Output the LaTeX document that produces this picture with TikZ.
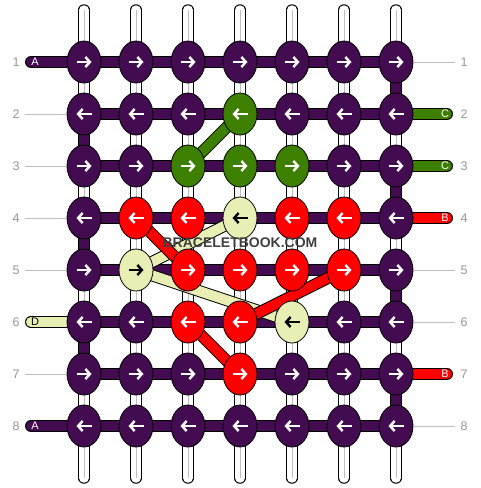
\documentclass[tikz,border=0pt]{standalone}
\usepackage{fontspec}
\setsansfont{Liberation Sans}
\usetikzlibrary{shapes.geometric,arrows.meta}

\definecolor{kP}{RGB}{68,12,80}
\definecolor{kG}{RGB}{61,128,0}
\definecolor{kR}{RGB}{255,0,0}
\definecolor{kY}{RGB}{232,238,180}
\colorlet{aP}{white}
\colorlet{aG}{white}
\colorlet{aR}{white}
\colorlet{aY}{black}
\definecolor{rulegray}{RGB}{190,190,190}
\definecolor{numgray}{RGB}{150,150,150}

\tikzset{
  warp/.style={line width=1pt, double=white, double distance=9.5pt, line cap=round},
  weft/.style={line width=1pt, double=#1, double distance=10pt},
  loose/.style={weft=#1, line cap=round},
  knot/.style={ellipse, draw=black, line width=0.8pt, fill=#1,
    minimum width=34pt, minimum height=42pt, inner sep=0pt},
  glyph/.style={line width=2.4pt, draw=#1},
  goright/.style={-{Straight Barb[length=4.5pt,width=10pt]}},
  goleft/.style={{Straight Barb[length=4.5pt,width=10pt]}-},
  rowno/.style={text=numgray, font=\sffamily\fontsize{12.5}{12.5}\selectfont, inner sep=1pt},
  tag/.style={text=#1, font=\sffamily\fontsize{11}{11}\selectfont, inner sep=0pt},
  tick/.style={draw=rulegray, line width=0.8pt},
}

\begin{document}
\begin{tikzpicture}[x=1pt, y=-1pt]
\useasboundingbox[fill=white] (0,0) rectangle (480,488);

% grid points
\foreach \r in {1,...,8}
  \foreach \c in {1,...,7}
    \coordinate (p-\r-\c) at (32+52*\c, 10+52*\r);
\foreach \c in {1,...,7} {
  \coordinate (t-\c) at (32+52*\c, 10);
  \coordinate (b-\c) at (32+52*\c, 478);
}

% vertical strings
\foreach \c in {1,...,7} {
  \draw[warp] (t-\c) -- (b-\c);
  \draw[rulegray, line width=0.7pt] (t-\c) -- (b-\c);
}

% rows of the carrying string
\foreach \r in {1,...,8}
  \draw[weft=kP] (p-\r-1) -- (p-\r-7);
\foreach \r in {1,3,5,7}
  \draw[weft=kP] (p-\r-7) -- (p-\the\numexpr\r+1\relax-7);
\foreach \r in {2,4,6}
  \draw[weft=kP] (p-\r-1) -- (p-\the\numexpr\r+1\relax-1);

% loose ends
\coordinate (l-1) at (31,62);
\coordinate (l-6) at (31,322);
\coordinate (l-8) at (31,426);
\coordinate (r-2) at (447,114);
\coordinate (r-3) at (447,166);
\coordinate (r-4) at (447,218);
\coordinate (r-7) at (447,374);
\draw[loose=kP] (l-1) -- (p-1-1);
\draw[loose=kY] (l-6) -- (p-6-1);
\draw[loose=kP] (l-8) -- (p-8-1);
\draw[loose=kG] (r-2) -- (p-2-7);
\draw[loose=kG] (r-3) -- (p-3-7);
\draw[loose=kR] (r-4) -- (p-4-7);
\draw[loose=kR] (r-7) -- (p-7-7);

% diagonal threads
\draw[weft=kG] (p-3-3) -- (p-2-4);
\draw[weft=kY] (p-4-4) -- (p-5-2);
\draw[weft=kY] (p-5-2) -- (p-6-5);
\draw[weft=kR] (p-4-2) -- (p-5-3);
\draw[weft=kR] (p-5-6) -- (p-6-4);
\draw[weft=kR] (p-6-3) -- (p-7-4);

% knots
\foreach \r/\dir/\row in {
  1/goright/{P,P,P,P,P,P,P},
  2/goleft/{P,P,P,G,P,P,P},
  3/goright/{P,P,G,G,G,P,P},
  4/goleft/{P,R,R,Y,R,R,P},
  5/goright/{P,Y,R,R,R,R,P},
  6/goleft/{P,P,R,R,Y,P,P},
  7/goright/{P,P,P,R,P,P,P},
  8/goleft/{P,P,P,P,P,P,P}}
  \foreach \c [count=\i] in \row {
    \node[knot=k\c] (k-\r-\i) at (p-\r-\i) {};
    \draw[glyph=a\c, \dir] ([xshift=-7.5pt]k-\r-\i.center) -- ([xshift=7.5pt]k-\r-\i.center);
  }

% row numbers
\foreach \r in {1,...,8} {
  \node[rowno] (nl-\r) at (16,10+52*\r) {\r};
  \node[rowno] (nr-\r) at (464,10+52*\r) {\r};
}
\foreach \r in {2,3,4,5,7}
  \draw[tick, shorten <=4pt] (nl-\r.east) -- (k-\r-1.west);
\foreach \r in {1,5,6,8}
  \draw[tick, shorten >=4pt] (k-\r-7.east) -- (nr-\r.west);

% string letters
\node[tag=white] (ta-1) at (35,62) {A};
\node[tag=black] (td-6) at (35,322) {D};
\node[tag=white] (ta-8) at (35,426) {A};
\node[tag=white] (tc-2) at (445,114) {C};
\node[tag=white] (tc-3) at (445,166) {C};
\node[tag=white] (tb-4) at (445,218) {B};
\node[tag=white] (tb-7) at (445,374) {B};

\node[text=black!75, font=\sffamily\bfseries\fontsize{14}{14}\selectfont] (wm) at (240,243) {BRACELETBOOK.COM};
\end{tikzpicture}
\end{document}
